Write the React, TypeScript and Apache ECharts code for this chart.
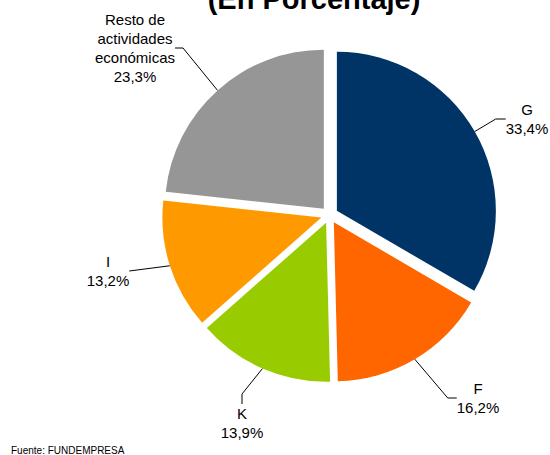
import React, { useEffect, useRef } from "react";
import * as echarts from "echarts";

const categories = ["G", "F", "K", "I", "Resto de\nactividades\neconómicas"];
const values = [33.4, 16.2, 13.9, 13.2, 23.3];
const colors = ["#003366", "#FF6600", "#99CC00", "#FF9900", "#969696"];
const titleText = "(En Porcentaje)";
const sourceText = "Fuente: FUNDEMPRESA";

// layout: label block centres (px) and leader second-segment lengths
const labelPos = [
  [527, 119],
  [478, 398],
  [242, 423],
  [108, 271],
  [135, 48],
];
const leaderLen2 = [10, 9, 10, 0, 8];

const FONT = "'Liberation Sans', Arial, Helvetica, sans-serif";
const CX = 329.5;
const CY = 215;
const R = 159;
const EXPLODE = 8.5;

const fmt = (v: number) => v.toFixed(1).replace(".", ",") + "%";

export default function App() {
  const ref = useRef<HTMLDivElement>(null);
  useEffect(() => {
    document.body.style.margin = "0";
    if (!ref.current) return;
    const chart = echarts.init(ref.current, undefined, { renderer: "svg" });

    const total = values.reduce((a, b) => a + b, 0);
    let cum = 0;
    const centers = values.map((v) => {
      const mid = ((cum + v / 2) / total) * 2 * Math.PI;
      cum += v;
      return [CX + EXPLODE * Math.sin(mid), CY - EXPLODE * Math.cos(mid)];
    });

    const series = categories.map((_, i) => ({
      type: "pie",
      center: centers[i],
      radius: [0, R],
      startAngle: 90,
      clockwise: true,
      avoidLabelOverlap: false,
      silent: true,
      emphasis: { disabled: true, scale: false },
      itemStyle: { borderWidth: 0 },
      data: categories.map((name, j) => ({
        name,
        value: values[j],
        itemStyle: { color: j === i ? colors[j] : "rgba(0,0,0,0)", borderWidth: 0 },
        label: { show: j === i },
        labelLine: { show: j === i, length2: leaderLen2[j] },
      })),
      label: {
        position: "outside",
        formatter: (p: any) => `${p.name}\n${fmt(p.value)}`,
        color: "#000",
        fontSize: 15,
        lineHeight: 19,
        fontFamily: FONT,
      },
      labelLine: {
        length: 20,
        length2: 10,
        lineStyle: { color: "#000", width: 1 },
      },
      labelLayout: (params: any) => ({
        x: labelPos[params.dataIndex][0],
        y: labelPos[params.dataIndex][1],
        align: "center",
        verticalAlign: "middle",
      }),
    }));

    chart.setOption({
      animation: false,
      backgroundColor: "#ffffff",
      graphic: [
        {
          type: "text",
          x: 314,
          y: -1,
          style: {
            text: titleText,
            font: `bold 29px ${FONT}`,
            fill: "#000",
            align: "center",
            verticalAlign: "middle",
          },
        },
        {
          type: "text",
          x: 11,
          y: 450,
          style: {
            text: sourceText,
            font: `10px ${FONT}`,
            fill: "#000",
            align: "left",
            verticalAlign: "middle",
          },
        },
      ],
      series,
    });
    return () => chart.dispose();
  }, []);
  return <div ref={ref} style={{ width: 550, height: 455 }} />;
}
